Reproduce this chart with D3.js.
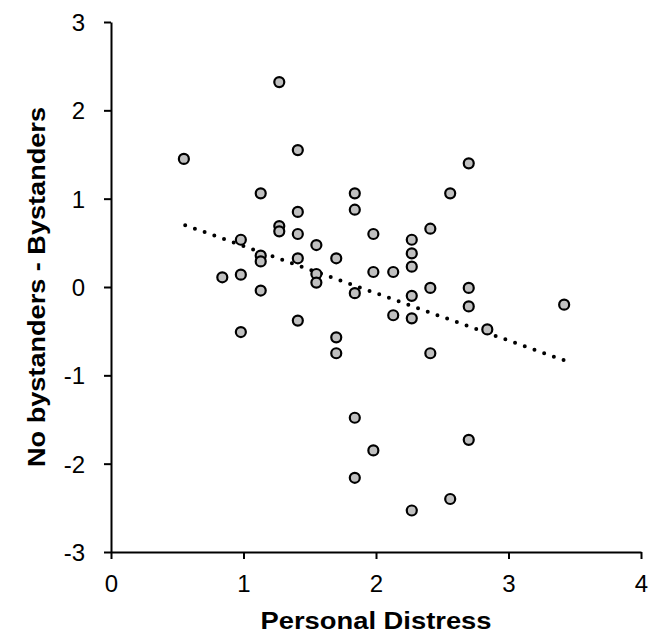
<!DOCTYPE html>
<html>
<head>
<meta charset="utf-8">
<script src="https://cdn.jsdelivr.net/npm/d3@7"></script>
<style>
  body { margin: 0; background: #fff; }
  svg { font-family: "Liberation Sans", Arial, sans-serif; }
</style>
</head>
<body>
<svg id="chart"></svg>
<script>
// Personal Distress scores (x) and difference scores (y)
const distress = [
  1.27, 0.55, 1.41, 1.13, 1.84, 1.84, 1.41, 1.27, 1.27, 1.41, 1.98, 0.98,
  1.55, 1.13, 1.13, 1.41, 1.70, 1.55, 1.55, 0.84, 0.98, 1.98, 1.13, 1.84,
  2.70, 2.56, 2.41, 2.27, 2.27, 2.27, 2.13, 2.41, 2.70, 2.27,
  1.41, 0.98, 1.70, 1.70, 1.84, 1.98, 1.84,
  2.70, 3.42, 2.13, 2.27, 2.84, 2.41, 2.70, 2.56, 2.27
];
const difference = [
  2.32, 1.45, 1.55, 1.06, 1.06, 0.875, 0.85, 0.69, 0.63, 0.60, 0.60, 0.535,
  0.475, 0.355, 0.29, 0.325, 0.325, 0.147, 0.05, 0.11, 0.14, 0.17, -0.04, -0.07,
  1.40, 1.06, 0.66, 0.535, 0.38, 0.23, 0.17, -0.01, -0.01, -0.10,
  -0.38, -0.51, -0.57, -0.75, -1.48, -1.85, -2.16,
  -0.22, -0.20, -0.32, -0.355, -0.48, -0.75, -1.73, -2.40, -2.53
];
// linear trend line end points
const trendX = [0.56, 3.42];
const trendY = [0.70, -0.83];

const xTicks = [0, 1, 2, 3, 4];
const yTicks = [-3, -2, -1, 0, 1, 2, 3];

const width = 660, height = 635;
const margin = { left: 111, right: 19, top: 22, bottom: 83 };

const svg = d3.select('#chart')
    .attr('width', width)
    .attr('height', height);

const x = d3.scaleLinear().domain([0, 4]).range([margin.left, width - margin.right]);
const y = d3.scaleLinear().domain([-3, 3]).range([height - margin.bottom, margin.top]);

// axes
const xAxis = svg.append('g')
    .attr('transform', `translate(0,${y(-3)})`)
    .call(d3.axisBottom(x).tickValues(xTicks).tickSize(7).tickPadding(16)
        .tickSizeOuter(0).tickFormat(d => String(d)));
const yAxis = svg.append('g')
    .attr('transform', `translate(${x(0)},0)`)
    .call(d3.axisLeft(y).tickValues(yTicks).tickSize(7).tickPadding(19)
        .tickSizeOuter(0).tickFormat(d => String(d)));

[xAxis, yAxis].forEach(g => {
    g.selectAll('.domain, line').attr('stroke', '#000').attr('stroke-width', 2);
    g.selectAll('text')
        .attr('fill', '#000')
        .style('font-size', '24px')
        .style('font-family', '"Liberation Sans", Arial, sans-serif');
});
yAxis.selectAll('text').attr('dy', '0.36em');

// trend line
svg.append('line')
    .attr('x1', x(trendX[0])).attr('y1', y(trendY[0]))
    .attr('x2', x(trendX[1])).attr('y2', y(trendY[1]))
    .attr('stroke', '#000')
    .attr('stroke-width', 4)
    .attr('stroke-linecap', 'round')
    .attr('stroke-dasharray', '0,10.3');

// points
svg.append('g')
    .selectAll('circle')
    .data(distress.map((d, i) => [d, difference[i]]))
    .enter()
    .append('circle')
    .attr('cx', d => x(d[0]))
    .attr('cy', d => y(d[1]))
    .attr('r', 5)
    .attr('fill', '#c0c0c0')
    .attr('stroke', '#000')
    .attr('stroke-width', 2.2);

// axis titles
svg.append('text')
    .attr('x', (x(0) + x(4)) / 2)
    .attr('y', 629)
    .attr('text-anchor', 'middle')
    .attr('textLength', 231)
    .attr('lengthAdjust', 'spacingAndGlyphs')
    .style('font-size', '23px')
    .style('font-weight', 'bold')
    .text('Personal Distress');

svg.append('text')
    .attr('transform', `translate(45,${y(0)}) rotate(-90)`)
    .attr('text-anchor', 'middle')
    .attr('textLength', 360)
    .attr('lengthAdjust', 'spacingAndGlyphs')
    .style('font-size', '24px')
    .style('font-weight', 'bold')
    .text('No bystanders - Bystanders');
</script>
</body>
</html>
